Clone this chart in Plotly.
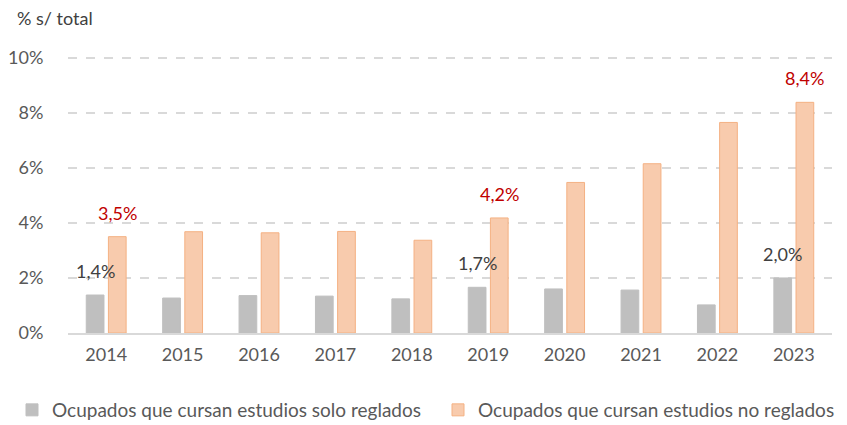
import plotly.graph_objects as go

years = ["2014", "2015", "2016", "2017", "2018", "2019", "2020", "2021", "2022", "2023"]
reglados = [1.38, 1.27, 1.36, 1.34, 1.24, 1.66, 1.60, 1.56, 1.02, 2.00]
no_reglados = [3.50, 3.68, 3.64, 3.69, 3.37, 4.18, 5.47, 6.15, 7.65, 8.38]
label_years = ["2014", "2019", "2023"]
reglados_labels = ["1,4%", "1,7%", "2,0%"]
no_reglados_labels = ["3,5%", "4,2%", "8,4%"]
y_ticks = [0, 2, 4, 6, 8, 10]
series_names = ["Ocupados que cursan estudios solo reglados", "Ocupados que cursan estudios no reglados"]

FONT = "Lato"
# the page body has an 8px margin, so the figure is sized to fit the 847x425 window
W, H = 839, 417
L, R, T, B = 60, 15, 47, 92
PW, PH = W - L - R, H - T - B

fig = go.Figure()
fig.add_trace(go.Bar(x=years, y=reglados, name=series_names[0], legend="legend",
                     marker=dict(color="#BFBFBF", line=dict(color="#BFBFBF", width=1))))
fig.add_trace(go.Bar(x=years, y=no_reglados, name=series_names[1], legend="legend2",
                     marker=dict(color="#F8CBAD", line=dict(color="#F4B183", width=1))))

annotations = []
for yr, t in zip(label_years, reglados_labels):
    v = reglados[years.index(yr)]
    annotations.append(dict(x=years.index(yr), y=v, xref="x", yref="y", text=t, showarrow=False,
                            xshift=-11, yshift=11, yanchor="bottom",
                            font=dict(family=FONT, size=18, color="#404040")))
for yr, t in zip(label_years, no_reglados_labels):
    v = no_reglados[years.index(yr)]
    annotations.append(dict(x=years.index(yr), y=v, xref="x", yref="y", text=t, showarrow=False,
                            xshift=11, yshift=11, yanchor="bottom",
                            font=dict(family=FONT, size=18, color="#C00000")))
annotations.append(dict(x=(7 - L) / PW, y=(PH + T - 10) / PH, xref="paper", yref="paper",
                        text="% s/ total", showarrow=False, xanchor="left", yanchor="middle",
                        font=dict(family=FONT, size=18, color="#404040")))

leg_common = dict(orientation="h", xref="container", yref="container", xanchor="left",
                  yanchor="middle", y=(H - 402) / H, itemwidth=30,
                  font=dict(family=FONT, size=19, color="#595959"), bgcolor="rgba(0,0,0,0)")

fig.update_layout(
    width=W, height=H,
    margin=dict(l=L, r=R, t=T, b=B, autoexpand=False),
    paper_bgcolor="white", plot_bgcolor="white",
    barmode="group", bargap=0.42, bargroupgap=0.2,
    font=dict(family=FONT, size=18, color="#595959"),
    showlegend=True,
    legend=dict(leg_common, x=4 / W),
    legend2=dict(leg_common, x=430 / W),
    annotations=annotations,
    xaxis=dict(type="category", categoryorder="array", categoryarray=years,
               range=[-0.5, len(years) - 0.5], automargin=False,
               showline=True, linecolor="#D9D9D9", linewidth=2, showgrid=False,
               ticks="outside", ticklen=4, tickcolor="rgba(0,0,0,0)",
               tickfont=dict(family=FONT, size=18, color="#595959")),
    yaxis=dict(range=[0, 10.1], tickvals=y_ticks, ticktext=[f"{v}%" for v in y_ticks],
               automargin=False,
               showgrid=True, gridcolor="#D9D9D9", griddash="dash", gridwidth=1.5,
               zeroline=False, showline=False, ticks="outside", ticklen=20,
               tickcolor="rgba(0,0,0,0)",
               tickfont=dict(family=FONT, size=18, color="#595959")),
)
fig.write_html("out.html")
